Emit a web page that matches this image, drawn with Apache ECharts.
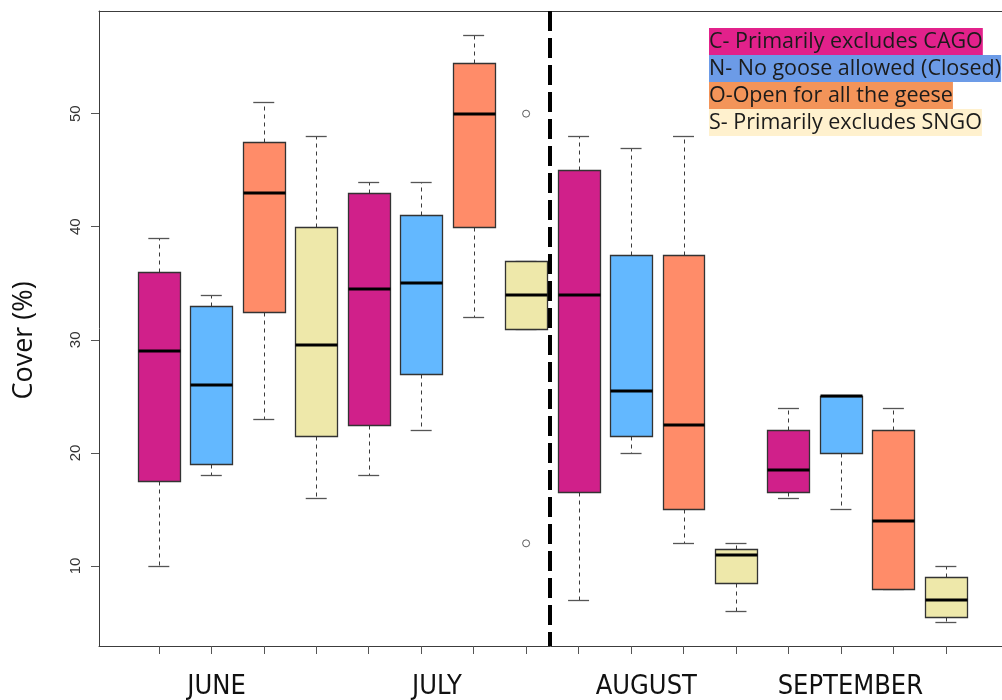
<!DOCTYPE html>
<html>
<head>
<meta charset="utf-8">
<title>Cover by treatment and month</title>
<script src="https://cdn.jsdelivr.net/npm/echarts@6/dist/echarts.min.js"></script>
<style>
  html, body { margin: 0; padding: 0; background: #ffffff; }
  #chart { width: 1002px; height: 700px; }
</style>
</head>
<body>
<div id="chart"></div>
<script>
// Months shown under the axis and where their labels sit on the position scale
const months = ['JUNE', 'JULY', 'AUGUST', 'SEPTEMBER'];
const monthLabelAt = [2.1, 6.3, 10.29, 14.18];

// Exclosure treatments (legend text)
const treatments = [
  'C- Primarily excludes CAGO',
  'N- No goose allowed (Closed)',
  'O-Open for all the geese',
  'S- Primarily excludes SNGO'
];

// Box statistics, one entry per box: June C,N,O,S, July C,N,O,S, August C,N,O,S, September C,N,O,S
const whiskerLow  = [10, 18, 23, 16,   18, 22, 32, 31,   7, 20, 12, 6,     16, 15, 8, 5];
const lowerQuart  = [17.5, 19, 32.5, 21.5,   22.5, 27, 40, 31,   16.5, 21.5, 15, 8.5,   16.5, 20, 8, 5.5];
const medianVal   = [29, 26, 43, 29.5,   34.5, 35, 50, 34,   34, 25.5, 22.5, 11,   18.5, 25, 14, 7];
const upperQuart  = [36, 33, 47.5, 40,   43, 41, 54.5, 37,   45, 37.5, 37.5, 11.5,   22, 25, 22, 9];
const whiskerHigh = [39, 34, 51, 48,   44, 44, 57, 37,   48, 47, 48, 12,   24, 25, 24, 10];

// Points beyond the whiskers: [box position, value]
const outliers = [[8, 50], [8, 12]];

// Y axis ticks
const yTicks = [10, 20, 30, 40, 50];

// Boundary between the July and August groups
const separatorAt = 8.46;

const boxFill    = ['#D0208A', '#63B8FF', '#FF8C69', '#EEE8AA'];
const legendFill = ['#E2218B', '#6C9BE7', '#F39459', '#FFF1CE'];

const Y_MIN = 2.92, Y_MAX = 59.08;
const X_MIN = -0.14, X_MAX = 17.07;
const BOX_HALF = 0.4, CAP_HALF = 0.2;

const snap = v => Math.round(v) + 0.5;

function renderBox(params, api) {
  const pos = api.value(0);
  const lo = api.value(1), q1 = api.value(2), med = api.value(3), q3 = api.value(4), hi = api.value(5);
  const cx = snap(api.coord([pos, q1])[0]);
  const bx0 = Math.round(api.coord([pos - BOX_HALF, q1])[0]) + 0.5;
  const bx1 = Math.round(api.coord([pos + BOX_HALF, q1])[0]) + 0.5;
  const cap0 = api.coord([pos - CAP_HALF, hi])[0];
  const cap1 = api.coord([pos + CAP_HALF, hi])[0];
  const yLo = snap(api.coord([pos, lo])[1]);
  const yQ1 = snap(api.coord([pos, q1])[1]);
  const yMed = api.coord([pos, med])[1];
  const yQ3 = snap(api.coord([pos, q3])[1]);
  const yHi = snap(api.coord([pos, hi])[1]);
  const fill = api.visual('color');

  const whiskerStyle = { stroke: '#3a3a3a', lineWidth: 1, lineDash: [4, 4] };
  const capStyle = { stroke: '#555555', lineWidth: 1.3 };

  return {
    type: 'group',
    children: [
      { type: 'line', shape: { x1: cx, y1: yQ3, x2: cx, y2: yHi }, style: whiskerStyle },
      { type: 'line', shape: { x1: cx, y1: yQ1, x2: cx, y2: yLo }, style: whiskerStyle },
      { type: 'line', shape: { x1: cap0, y1: yHi, x2: cap1, y2: yHi }, style: capStyle },
      { type: 'line', shape: { x1: cap0, y1: yLo, x2: cap1, y2: yLo }, style: capStyle },
      {
        type: 'rect',
        shape: { x: bx0, y: yQ3, width: bx1 - bx0, height: yQ1 - yQ3 },
        style: { fill: fill, stroke: '#333333', lineWidth: 1.3 }
      },
      {
        type: 'line',
        shape: { x1: bx0, y1: Math.round(yMed), x2: bx1, y2: Math.round(yMed) },
        style: { stroke: '#000000', lineWidth: 3 }
      }
    ]
  };
}

// one custom series per treatment, each holding its four monthly boxes
const boxSeries = treatments.map((name, t) => {
  const data = [];
  for (let i = t; i < medianVal.length; i += treatments.length) {
    data.push([i + 1, whiskerLow[i], lowerQuart[i], medianVal[i], upperQuart[i], whiskerHigh[i]]);
  }
  return {
    name: name,
    type: 'custom',
    xAxisIndex: 0,
    yAxisIndex: 0,
    itemStyle: { color: boxFill[t] },
    encode: { x: 0, y: [1, 2, 3, 4, 5] },
    renderItem: renderBox,
    data: data,
    silent: true
  };
});

const axisGray = '#3c3c3c';

const option = {
  animation: false,
  backgroundColor: '#ffffff',
  grid: { left: 99, right: 0, top: 11, bottom: 52 },
  legend: {
    orient: 'vertical',
    left: 704,
    top: 28,
    padding: 0,
    itemGap: 0,
    itemWidth: 0,
    itemHeight: 0,
    icon: 'rect',
    selectedMode: false,
    data: treatments.map((name, i) => ({
      name: name,
      textStyle: { backgroundColor: legendFill[i] }
    })),
    textStyle: {
      fontFamily: 'Open Sans',
      fontSize: 21.5,
      lineHeight: 27,
      color: '#1b1b1b'
    }
  },
  xAxis: [
    {
      type: 'value',
      position: 'bottom',
      min: X_MIN,
      max: X_MAX,
      axisLine: { show: true, onZero: false, lineStyle: { color: axisGray, width: 1 } },
      axisTick: {
        show: true,
        length: 8,
        customValues: medianVal.map((_, i) => i + 1),
        lineStyle: { color: '#555555' }
      },
      axisLabel: {
        show: true,
        margin: 27,
        customValues: monthLabelAt,
        formatter: v => months[monthLabelAt.indexOf(v)] || '',
        fontFamily: '"DejaVu Sans Condensed", "Liberation Sans", sans-serif',
        fontSize: 27,
        color: '#111111'
      },
      splitLine: { show: false }
    },
    {
      type: 'value',
      position: 'top',
      min: X_MIN,
      max: X_MAX,
      axisLine: { show: true, onZero: false, lineStyle: { color: axisGray, width: 1 } },
      axisTick: { show: false },
      axisLabel: { show: false },
      splitLine: { show: false }
    }
  ],
  yAxis: {
    type: 'value',
    min: Y_MIN,
    max: Y_MAX,
    name: 'Cover (%)',
    nameLocation: 'middle',
    nameRotate: 90,
    nameGap: 61,
    nameTextStyle: {
      fontFamily: 'Open Sans',
      fontSize: 27,
      color: '#111111',
      padding: [0, 24, 0, 0]
    },
    axisLine: { show: true, onZero: false, lineStyle: { color: axisGray, width: 1 } },
    axisTick: {
      show: true,
      length: 8,
      customValues: yTicks,
      lineStyle: { color: '#555555' }
    },
    axisLabel: {
      show: true,
      rotate: 90,
      margin: 16,
      customValues: yTicks,
      fontFamily: 'Liberation Sans',
      fontSize: 15,
      color: '#333333'
    },
    splitLine: { show: false }
  },
  series: boxSeries.concat([
    {
      name: 'outliers',
      type: 'scatter',
      data: outliers,
      symbol: 'circle',
      symbolSize: 7,
      silent: true,
      itemStyle: { color: 'rgba(0,0,0,0)', borderColor: '#333333', borderWidth: 1 },
      markLine: {
        silent: true,
        symbol: 'none',
        label: { show: false },
        lineStyle: { color: '#000000', width: 4, type: [20, 7] },
        data: [[{ coord: [separatorAt, Y_MAX] }, { coord: [separatorAt, Y_MIN] }]]
      }
    }
  ])
};

const chart = echarts.init(document.getElementById('chart'), null, { renderer: 'canvas' });
chart.setOption(option);
</script>
</body>
</html>
